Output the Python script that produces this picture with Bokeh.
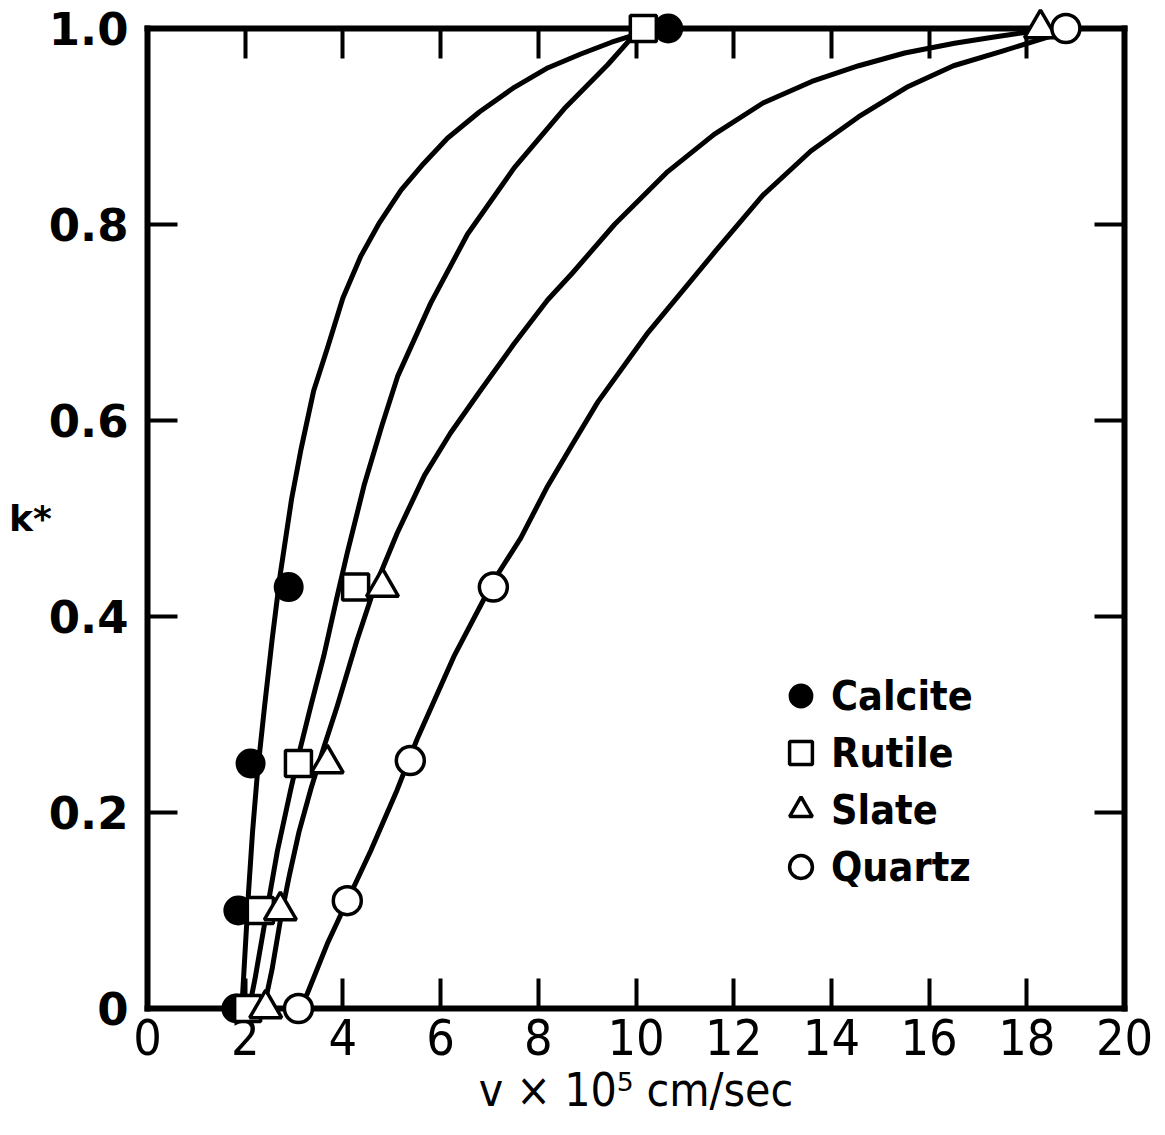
from bokeh.plotting import figure
from bokeh.models import Range1d, LinearAxis, FixedTicker, Legend, LegendItem, CustomJSTickFormatter
from bokeh.embed import file_html
from bokeh.resources import INLINE

# ---------------- data ----------------
x_ticks = [0, 2, 4, 6, 8, 10, 12, 14, 16, 18, 20]
y_ticks = [0.0, 0.2, 0.4, 0.6, 0.8, 1.0]
y_tick_labels = ["0", "0.2", "0.4", "0.6", "0.8", "1.0"]

materials = ["Calcite", "Rutile", "Slate", "Quartz"]

calcite_v = [1.82, 1.86, 2.11, 2.89, 10.66]
calcite_k = [0.0, 0.10, 0.25, 0.43, 1.0]
rutile_v = [2.05, 2.31, 3.09, 4.26, 10.15]
rutile_k = [0.0, 0.10, 0.25, 0.43, 1.0]
slate_v = [2.42, 2.72, 3.68, 4.81, 18.28]
slate_k = [0.0, 0.10, 0.25, 0.43, 1.0]
quartz_v = [3.09, 4.09, 5.38, 7.08, 18.80]
quartz_k = [0.0, 0.11, 0.253, 0.43, 1.0]

# fitted curves as drawn in the figure
calcite_curve_v = [1.93, 2.00, 2.07, 2.15, 2.25, 2.40, 2.55, 2.72, 2.95, 3.14, 3.40, 3.69, 4.00, 4.37,
                   4.75, 5.19, 5.65, 6.14, 6.80, 7.51, 8.20, 8.87, 9.50, 10.20]
calcite_curve_k = [0.0, 0.06, 0.12, 0.18, 0.24, 0.31, 0.376, 0.444, 0.52, 0.57, 0.63, 0.675, 0.725, 0.768,
                   0.802, 0.835, 0.862, 0.888, 0.915, 0.94, 0.96, 0.974, 0.986, 0.997]
rutile_curve_v = [2.08, 2.20, 2.42, 2.66, 2.93, 3.12, 3.34, 3.61, 3.88, 4.09, 4.44, 4.80, 5.12, 5.80,
                  6.55, 7.51, 8.53, 9.42, 9.90, 10.15]
rutile_curve_k = [0.0, 0.03, 0.093, 0.161, 0.223, 0.264, 0.308, 0.36, 0.42, 0.465, 0.535, 0.595, 0.645, 0.72,
                  0.79, 0.858, 0.918, 0.963, 0.99, 1.0]
slate_curve_v = [2.38, 2.55, 2.72, 2.90, 3.10, 3.35, 3.60, 3.88, 4.29, 4.63, 5.11, 5.67, 6.20, 6.78,
                 7.50, 8.19, 8.69, 9.56, 10.65, 11.60, 12.60, 13.60, 14.56, 15.50, 16.52, 17.30, 18.10]
slate_curve_k = [0.0, 0.04, 0.09, 0.135, 0.18, 0.225, 0.265, 0.308, 0.376, 0.427, 0.485, 0.544, 0.587, 0.628,
                 0.678, 0.723, 0.75, 0.80, 0.854, 0.892, 0.924, 0.946, 0.962, 0.975, 0.985, 0.991, 0.997]
quartz_curve_v = [3.10, 3.27, 3.68, 4.09, 4.57, 5.11, 5.52, 6.27, 7.09, 7.64, 8.19, 8.69, 9.22, 10.25,
                  11.63, 12.60, 13.58, 14.56, 15.54, 16.50, 17.50, 18.48, 18.80]
quartz_curve_k = [0.0, 0.015, 0.066, 0.11, 0.161, 0.223, 0.275, 0.359, 0.437, 0.48, 0.533, 0.575, 0.619, 0.69,
                  0.773, 0.83, 0.875, 0.91, 0.94, 0.962, 0.977, 0.992, 1.0]

x_label = "v \u00d7 10\u2075 cm/sec"
y_label = "k*"

# ---------------- figure ----------------
NARROW = "'DejaVu Sans Condensed', 'Liberation Sans', sans-serif"

p = figure(width=1165, height=1135, x_range=Range1d(0, 20), y_range=Range1d(0, 1),
           output_backend="svg", toolbar_location=None,
           min_border_left=147, min_border_right=41, min_border_top=28, min_border_bottom=127)
p.grid.visible = False
p.outline_line_color = None
p.background_fill_color = "white"
p.border_fill_color = "white"

xb = p.below[0]
yl = p.left[0]
xb.ticker = FixedTicker(ticks=x_ticks)
yl.ticker = FixedTicker(ticks=y_ticks)
yl.major_label_overrides = {t: s for t, s in zip(y_ticks, y_tick_labels)}

top = LinearAxis(ticker=FixedTicker(ticks=x_ticks), formatter=CustomJSTickFormatter(code="return ''"))
right = LinearAxis(ticker=FixedTicker(ticks=y_ticks), formatter=CustomJSTickFormatter(code="return ''"))
p.add_layout(top, "above")
p.add_layout(right, "right")

for ax in (xb, yl, top, right):
    ax.axis_line_width = 6
    ax.axis_line_color = "black"
    ax.axis_line_cap = "square"
    ax.major_tick_in = 30
    ax.major_tick_out = 0
    ax.major_tick_line_width = 4
    ax.major_tick_line_color = "black"
    ax.minor_tick_line_color = None
top.major_label_text_font_size = "1px"
right.major_label_text_font_size = "1px"

xb.major_label_text_font = NARROW
xb.major_label_text_font_size = "50px"
xb.major_label_text_color = "black"
xb.major_label_standoff = 10
xb.axis_label = x_label
xb.axis_label_text_font = NARROW
xb.axis_label_text_font_size = "46px"
xb.axis_label_text_font_style = "normal"
xb.axis_label_text_color = "black"
xb.axis_label_standoff = 5

yl.major_label_text_font = "DejaVu Sans"
yl.major_label_text_font_style = "bold"
yl.major_label_text_font_size = "45px"
yl.major_label_text_color = "black"
yl.major_label_standoff = 19
yl.axis_label = y_label
yl.axis_label_orientation = "horizontal"
yl.axis_label_text_font = "DejaVu Sans"
yl.axis_label_text_font_style = "bold"
yl.axis_label_text_font_size = "36px"
yl.axis_label_text_color = "black"
yl.axis_label_standoff = -6

# curves
for cv, ck in ((calcite_curve_v, calcite_curve_k), (rutile_curve_v, rutile_curve_k),
               (slate_curve_v, slate_curve_k), (quartz_curve_v, quartz_curve_k)):
    p.line(cv, ck, line_width=5, line_color="black", line_join="round", line_cap="round")

# markers
r_cal = p.scatter(calcite_v, calcite_k, marker="circle", size=28, fill_color="black",
                  line_color="black", line_width=2, level="overlay")
r_rut = p.scatter(rutile_v, rutile_k, marker="square", size=26, fill_color="white",
                  line_color="black", line_width=3.5, level="overlay")
r_sla = p.scatter(slate_v, slate_k, marker="triangle", size=32, fill_color="white",
                  line_color="black", line_width=3.5, level="overlay")
r_qua = p.scatter(quartz_v, quartz_k, marker="circle", size=28, fill_color="white",
                  line_color="black", line_width=3.5, level="overlay")

legend = Legend(items=[LegendItem(label=m, renderers=[r]) for m, r in
                       zip(materials, (r_cal, r_rut, r_sla, r_qua))],
                location=(625, 113), orientation="vertical",
                glyph_width=57, glyph_height=57, spacing=0, padding=0, margin=0,
                label_standoff=2, label_text_font=NARROW, label_text_font_style="bold",
                label_text_font_size="41px", label_text_color="black",
                border_line_color=None, background_fill_alpha=0)
p.add_layout(legend, "center")

open("out.html", "w").write(file_html(p, INLINE))
